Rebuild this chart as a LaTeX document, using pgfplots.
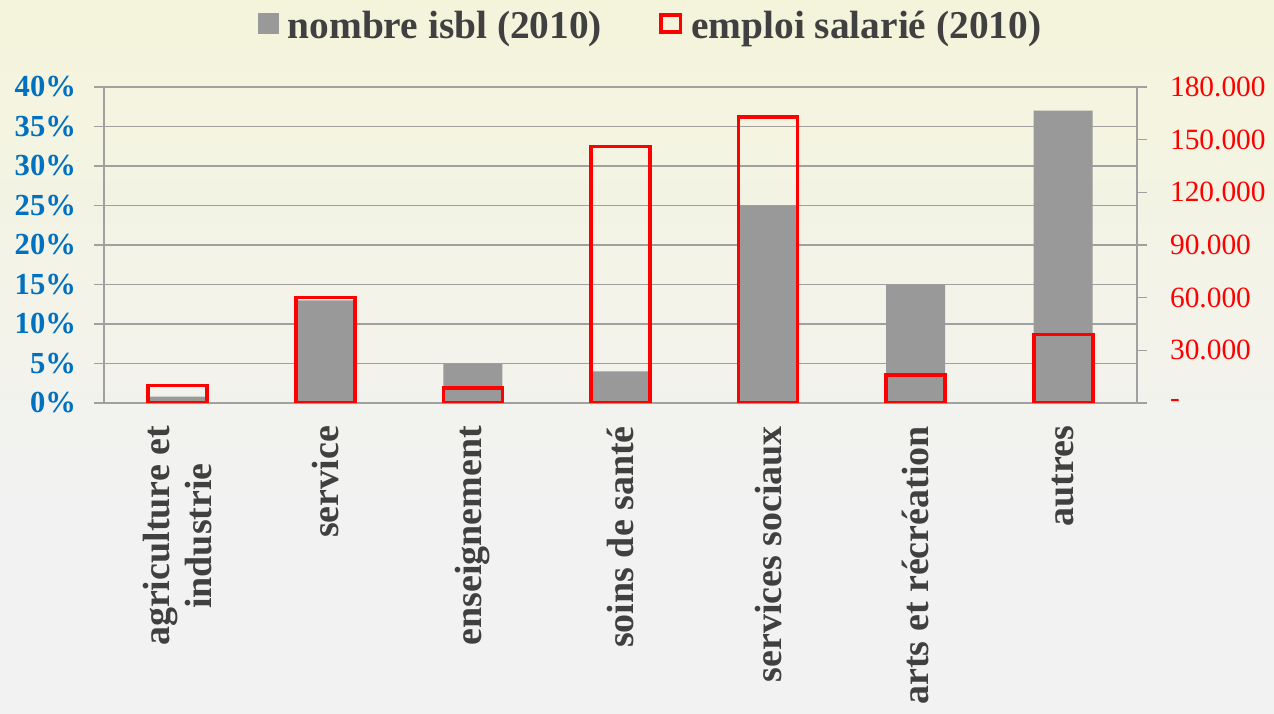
\documentclass[border=0pt]{standalone}
\usepackage{pgfplots}
\pgfplotsset{compat=1.18}
\usepackage{pgfplotstable}
\usepackage{fontspec}
\setmainfont{Liberation Serif}
\definecolor{bargray}{HTML}{999999}
\definecolor{txtgray}{HTML}{404040}
\definecolor{ablue}{HTML}{0070C0}
\definecolor{gridgray}{HTML}{A0A0A0}
\definecolor{bgtop}{HTML}{F6F6CB}
\definecolor{bgbot}{HTML}{F2F2F2}
\pgfdeclareverticalshading{bgshade}{100bp}{color(0bp)=(bgbot); color(40bp)=(bgbot); color(100bp)=(bgtop)}

\pgfplotstableread{
x isbl emploi
0 0.8 10000
1 13 60000
2 5 8500
3 4 146000
4 25 163000
5 15 16000
6 37 39000
}\data

\begin{document}
\begin{tikzpicture}
\shade[use as bounding box, shading=bgshade] (0,0) rectangle (637pt,356.5pt);
\begin{axis}[
  at={(52pt,155pt)}, anchor=south west,
  scale only axis, width=516.5pt, height=158pt,
  xmin=-0.5, xmax=6.5, ymin=0, ymax=40,
  axis y line*=left, axis x line*=bottom,
  ytick={0,5,...,40},
  yticklabels={0\%,5\%,10\%,15\%,20\%,25\%,30\%,35\%,40\%},
  yticklabel style={xshift=-5.5pt, font=\bfseries\fontsize{15.3}{15.3}\selectfont, text=ablue},
  ymajorgrids, grid style={gridgray, line width=0.75pt},
  axis line style={gridgray, line width=0.75pt},
  every tick/.style={gridgray, line width=0.75pt},
  tick align=outside, major tick length=5pt, minor tick length=6pt,
  xtick={0,...,6},
  xtick style={draw=none},
  minor xtick={-0.5,0.5,...,6.5},
  xticklabels={{agriculture et\\industrie},service,enseignement,soins de santé,services sociaux,arts et récréation,autres},
  xticklabel style={yshift=-3pt, rotate=90, anchor=east, align=center, font=\bfseries\fontsize{19}{21}\selectfont, text=txtgray},
  ybar, bar width=29.5pt, bar shift=0pt,
]
\addplot[fill=bargray, draw=none] table[x=x,y=isbl]{\data};
\end{axis}
\begin{axis}[
  at={(52pt,155pt)}, anchor=south west,
  scale only axis, width=516.5pt, height=158pt,
  xmin=-0.5, xmax=6.5, ymin=0, ymax=180000,
  axis y line*=right, axis x line=none,
  ytick={0,30000,...,180000},
  yticklabels={-,30.000,60.000,90.000,120.000,150.000,180.000},
  scaled y ticks=false,
  yticklabel style={xshift=8pt, font=\fontsize{14.7}{14.7}\selectfont, text=red, anchor=west},
  axis line style={gridgray, line width=0.75pt},
  every tick/.style={gridgray, line width=0.75pt},
  tick align=outside, major tick length=5pt,
  ybar, bar width=29.5pt, bar shift=0pt,
  legend style={at={(0.530,1.193)}, anchor=center, draw=none, fill=none,
    font=\bfseries\fontsize{19.7}{19.7}\selectfont, text=txtgray,
    legend columns=2,
    /tikz/every odd column/.append style={column sep=2.5pt},
    /tikz/every even column/.append style={column sep=26.5pt}},
]
\addlegendimage{fill=bargray, draw=none, legend image code/.code={\fill[bargray] (0pt,-4pt) rectangle (10.5pt,6.5pt);}}
\addlegendentry{nombre isbl (2010)}
\addplot[draw=red, fill=none, line width=1.8pt,
  legend image code/.code={\draw[red, line width=1.8pt] (0.9pt,-3.1pt) rectangle (10.6pt,5.6pt);}]
  table[x=x,y=emploi]{\data};
\addlegendentry{emploi salarié (2010)}
\end{axis}
\end{tikzpicture}
\end{document}
